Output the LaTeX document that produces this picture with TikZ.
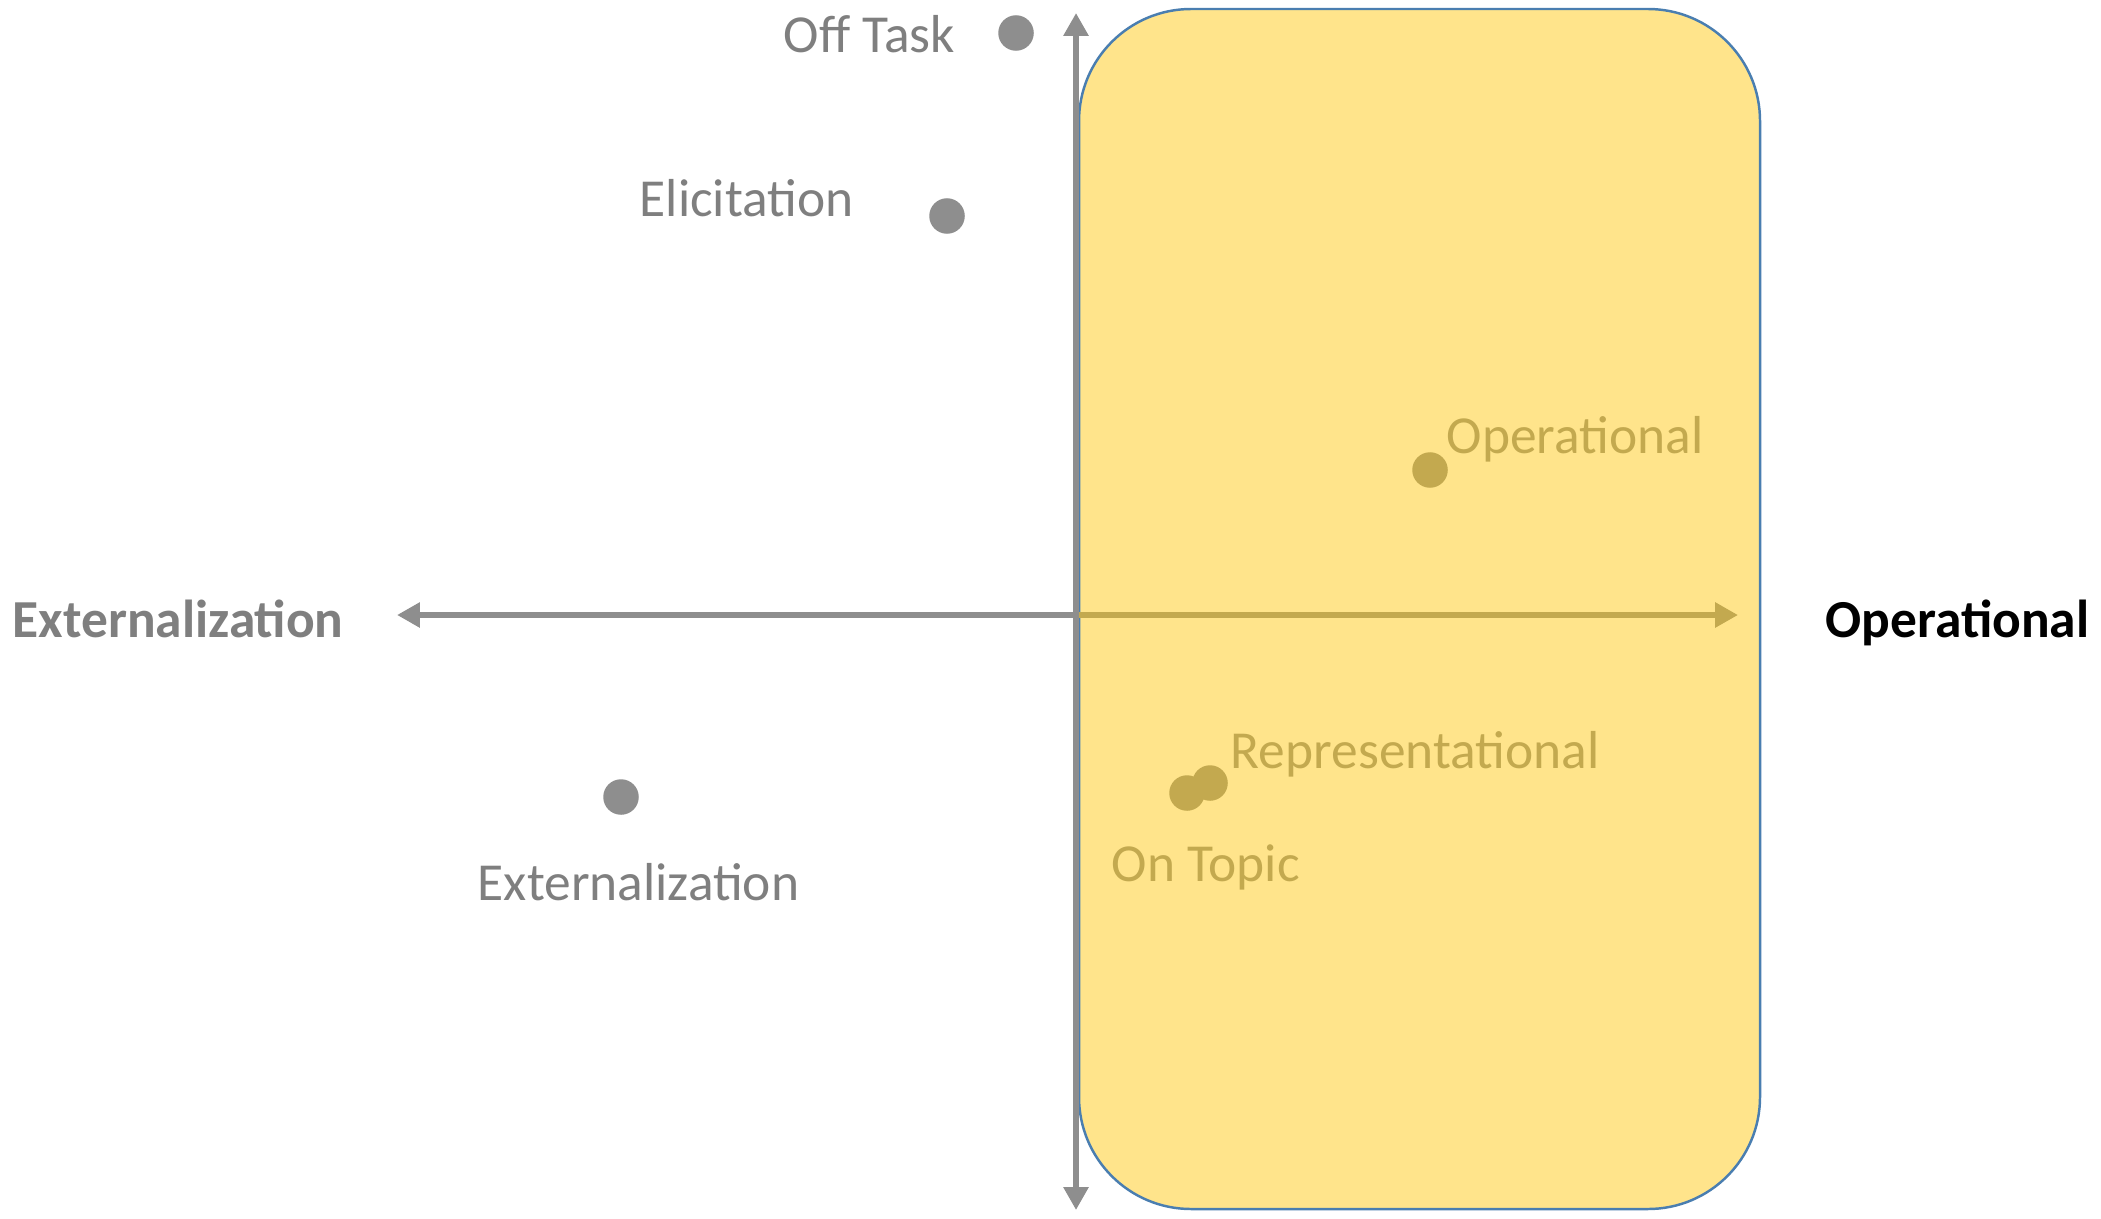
\documentclass[tikz,border=0pt]{standalone}
\usepackage{fontspec}
\setmainfont{Carlito}
\usetikzlibrary{arrows.meta}
\definecolor{axisgray}{HTML}{8E8E8E}
\definecolor{labelgray}{HTML}{7F7F7F}
\definecolor{boxfill}{HTML}{FFE48B}
\definecolor{boxline}{HTML}{4A7EB0}
\definecolor{olive}{HTML}{C3A94F}
\tikzset{
  axis/.style={line width=1.85pt, -{Triangle[length=6.5pt,width=6.8pt]}},
  dotnode/.style={circle, inner sep=0pt, minimum size=0.355cm},
  lbl/.style={anchor=base west, inner sep=0pt, font=\fontsize{15.2}{18}\selectfont},
  boldlbl/.style={lbl, font=\fontsize{15.2}{18}\selectfont\bfseries},
}
\begin{document}
\begin{tikzpicture}[x=0.01cm, y=-0.01cm]
\useasboundingbox (0,0) rectangle (2101,1218);
% shaded region
\draw[fill=boxfill, draw=boxline, line width=0.7pt, rounded corners=1.12cm] (1079,9) rectangle (1760,1209);
% axes
\coordinate (origin) at (1076,615);
\coordinate (xleft) at (397,615);
\coordinate (xright) at (1738,615);
\coordinate (ytop) at (1076,13);
\coordinate (ybot) at (1076,1210);
\draw[axis, axisgray] (origin) -- (xleft);
\draw[axis, olive] (origin) -- (xright);
\draw[axis, axisgray, {Triangle[length=6.5pt,width=6.8pt]}-{Triangle[length=6.5pt,width=6.8pt]}] (ytop) -- (ybot);
% axis titles
\node[boldlbl, text=labelgray] (extaxis) at (12,637) {Externalization};
\node[boldlbl, text=black] (opaxis) at (1825,637) {Operational};
% points
\node[dotnode, fill=axisgray] (offtask) at (1016,33) {};
\node[dotnode, fill=axisgray] (elicit) at (947,216) {};
\node[dotnode, fill=olive] (oper) at (1430,470) {};
\node[dotnode, fill=olive] (repr) at (1210,783) {};
\node[dotnode, fill=olive] (ontopic) at (1187,793) {};
\node[dotnode, fill=axisgray] (ext) at (621,797) {};
% point labels
\node[lbl, text=labelgray] (offtaskL) at (783,52) {Off Task};
\node[lbl, text=labelgray] (elicitL) at (639,216) {Elicitation};
\node[lbl, text=olive] (operL) at (1446,453) {Operational};
\node[lbl, text=olive] (reprL) at (1230,768) {Representational};
\node[lbl, text=olive] (ontopicL) at (1111,881) {On Topic};
\node[lbl, text=labelgray] (extL) at (477,900) {Externalization};
\end{tikzpicture}
\end{document}
